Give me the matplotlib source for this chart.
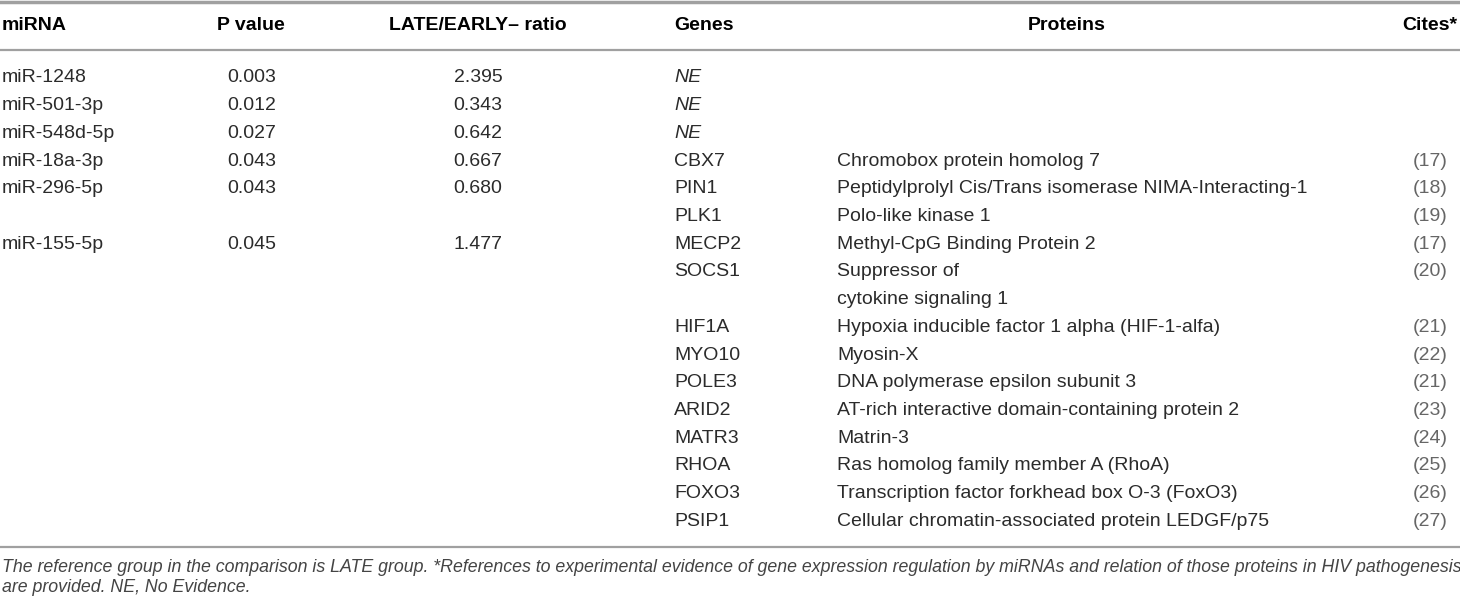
import matplotlib.pyplot as plt

plt.rcParams['font.family'] = ['Liberation Sans', 'DejaVu Sans']

# table content
headers = ["miRNA", "P value", "LATE/EARLY– ratio", "Genes", "Proteins", "Cites*"]
mirna = ["miR-1248", "miR-501-3p", "miR-548d-5p", "miR-18a-3p", "miR-296-5p", "miR-155-5p"]
pvals = ["0.003", "0.012", "0.027", "0.043", "0.043", "0.045"]
ratios = ["2.395", "0.343", "0.642", "0.667", "0.680", "1.477"]
genes = [["NE"], ["NE"], ["NE"], ["CBX7"], ["PIN1", "PLK1"],
         ["MECP2", "SOCS1", "HIF1A", "MYO10", "POLE3", "ARID2",
          "MATR3", "RHOA", "FOXO3", "PSIP1"]]
proteins = {
    "CBX7": "Chromobox protein homolog 7",
    "PIN1": "Peptidylprolyl Cis/Trans isomerase NIMA-Interacting-1",
    "PLK1": "Polo-like kinase 1",
    "MECP2": "Methyl-CpG Binding Protein 2",
    "SOCS1": "Suppressor of\ncytokine signaling 1",
    "HIF1A": "Hypoxia inducible factor 1 alpha (HIF-1-alfa)",
    "MYO10": "Myosin-X",
    "POLE3": "DNA polymerase epsilon subunit 3",
    "ARID2": "AT-rich interactive domain-containing protein 2",
    "MATR3": "Matrin-3",
    "RHOA": "Ras homolog family member A (RhoA)",
    "FOXO3": "Transcription factor forkhead box O-3 (FoxO3)",
    "PSIP1": "Cellular chromatin-associated protein LEDGF/p75",
}
cites = {"CBX7": "(17)", "PIN1": "(18)", "PLK1": "(19)", "MECP2": "(17)",
         "SOCS1": "(20)", "HIF1A": "(21)", "MYO10": "(22)", "POLE3": "(21)",
         "ARID2": "(23)", "MATR3": "(24)", "RHOA": "(25)", "FOXO3": "(26)",
         "PSIP1": "(27)"}
footnote = ["The reference group in the comparison is LATE group. *References to experimental evidence of gene expression regulation by miRNAs and relation of those proteins in HIV pathogenesis",
            "are provided. NE, No Evidence."]

W, H = 1460, 597
fig = plt.figure(figsize=(W / 100, H / 100), dpi=100)
ax = fig.add_axes([0, 0, 1, 1])
ax.set_xlim(0, W)
ax.set_ylim(H, 0)
ax.axis('off')

fs = 14
body = '#2b2b2b'
linec = '#a0a0a0'

# rules
ax.plot([0, W], [2, 2], color=linec, lw=2.5)
ax.plot([0, W], [50, 50], color=linec, lw=1.6)
ax.plot([0, W], [547, 547], color=linec, lw=1.6)

# header
hy = 26
ax.text(2, hy, headers[0], ha='left', va='center', fontsize=fs, fontweight='bold')
ax.text(251, hy, headers[1], ha='center', va='center', fontsize=fs, fontweight='bold')
ax.text(478, hy, headers[2], ha='center', va='center', fontsize=fs, fontweight='bold')
ax.text(674, hy, headers[3], ha='left', va='center', fontsize=fs, fontweight='bold')
ax.text(1067, hy, headers[4], ha='center', va='center', fontsize=fs, fontweight='bold')
ax.text(1457, hy, headers[5], ha='right', va='center', fontsize=fs, fontweight='bold')

y0, dy = 78, 27.7
line = 0
for m, p, r, gl in zip(mirna, pvals, ratios, genes):
    y = y0 + line * dy
    ax.text(2, y, m, ha='left', va='center', fontsize=fs, color=body)
    ax.text(252, y, p, ha='center', va='center', fontsize=fs, color=body)
    ax.text(478, y, r, ha='center', va='center', fontsize=fs, color=body)
    for g in gl:
        y = y0 + line * dy
        if g == "NE":
            ax.text(674, y, g, ha='left', va='center', fontsize=fs, color=body, style='italic')
            line += 1
            continue
        ax.text(674, y, g, ha='left', va='center', fontsize=fs, color=body)
        parts = proteins[g].split("\n")
        for k, t in enumerate(parts):
            ax.text(837, y + k * dy, t, ha='left', va='center', fontsize=fs, color=body)
        ax.text(1448, y, cites[g], ha='right', va='center', fontsize=fs, color='#666666')
        line += len(parts)

# footnote
ax.text(2, 567, footnote[0], ha='left', va='center', fontsize=12.75, style='italic', color='#444444')
ax.text(2, 588, footnote[1], ha='left', va='center', fontsize=12.75, style='italic', color='#444444')

fig.savefig('out.png', dpi=100)
